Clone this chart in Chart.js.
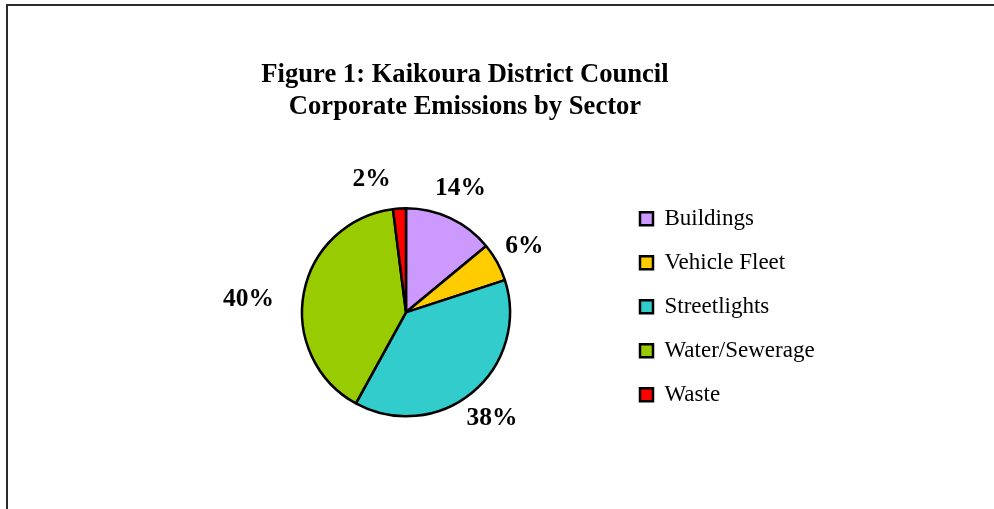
<!DOCTYPE html>
<html>
<head>
<meta charset="utf-8">
<script src="https://cdn.jsdelivr.net/npm/chart.js@4/dist/chart.umd.min.js"></script>
<style>
  html, body { margin: 0; padding: 0; background: #ffffff; width: 994px; height: 509px; overflow: hidden; }
  #frame { position: absolute; left: 6px; top: 4px; width: 1100px; height: 700px;
           border-left: 2px solid #2b2b2b; border-top: 2px solid #2b2b2b; box-sizing: border-box; }
  #c { position: absolute; left: 0; top: 0; }
</style>
</head>
<body>
<div id="frame"></div>
<canvas id="c" width="994" height="509"></canvas>
<script>
// ---- data ----
const titleLines = ['Figure 1: Kaikoura District Council', 'Corporate Emissions by Sector'];
const categories = ['Buildings', 'Vehicle Fleet', 'Streetlights', 'Water/Sewerage', 'Waste'];
const shares = [14, 6, 38, 40, 2];            // percent of corporate emissions
const sliceColors = ['#CC99FF', '#FFCC00', '#33CCCC', '#99CC00', '#FF0000'];

// label placement nudges (layout only, px) – Excel moved two labels to avoid collisions
const labelNudgeX = [-3, 0, 0, -25, -26];
const labelNudgeY = [-1.5, -0.5, 2, 12.5, 1.5];

const pctLabels = {
  id: 'pctLabels',
  afterDatasetsDraw(chart) {
    const ctx = chart.ctx;
    const meta = chart.getDatasetMeta(0);
    const data = chart.data.datasets[0].data;
    ctx.save();
    ctx.font = 'bold 25.5px "Liberation Serif", "Times New Roman", serif';
    ctx.fillStyle = '#000000';
    ctx.textAlign = 'center';
    ctx.textBaseline = 'middle';
    meta.data.forEach((arc, i) => {
      const p = arc.getProps(['x', 'y', 'startAngle', 'endAngle', 'outerRadius'], true);
      const mid = (p.startAngle + p.endAngle) / 2;
      const d = p.outerRadius + 31;
      const x = p.x + Math.cos(mid) * d + labelNudgeX[i];
      const y = p.y + Math.sin(mid) * d + labelNudgeY[i];
      ctx.fillText(data[i] + '%', x, y);
    });
    ctx.restore();
  }
};

// keep the legend text from being clipped by the narrow layout box
const legendRoom = {
  id: 'legendRoom',
  afterLayout(chart) {
    const lg = chart.legend;
    if (lg) { lg.right = chart.width; lg.width = lg.right - lg.left; }
  }
};

new Chart(document.getElementById('c'), {
  type: 'pie',
  data: {
    labels: categories,
    datasets: [{
      data: shares,
      backgroundColor: sliceColors,
      borderColor: '#000000',
      borderWidth: 2.5,
      radius: 104
    }]
  },
  plugins: [pctLabels, legendRoom],
  options: {
    responsive: false,
    animation: false,
    events: [],
    layout: { padding: { left: 193, right: 257, top: 0, bottom: 70.5 } },
    plugins: {
      tooltip: { enabled: false },
      title: {
        display: true,
        text: titleLines,
        color: '#000000',
        font: { family: '"Liberation Serif", "Times New Roman", serif', size: 26.6, weight: 'bold', lineHeight: 1.215 },
        padding: { top: 59, bottom: 62.5 }
      },
      legend: {
        display: true,
        position: 'right',
        align: 'start',
        fullSize: false,
        maxWidth: 118,
        labels: {
          boxWidth: 13,
          boxHeight: 13,
          padding: 21,
          color: '#000000',
          font: { family: '"Liberation Serif", "Times New Roman", serif', size: 23 }
        }
      }
    }
  }
});
</script>
</body>
</html>
